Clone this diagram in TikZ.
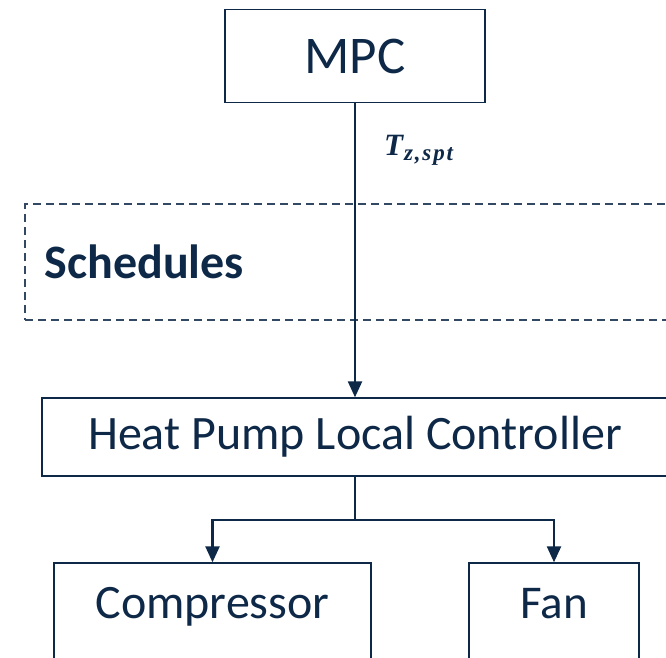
\documentclass[tikz,border=0pt]{standalone}
\usepackage{fontspec}
\usepackage{amssymb,amsmath}
\usetikzlibrary{calc,arrows.meta}
\setmainfont{Carlito}
\newfontfamily\labelfont{Liberation Serif}
\newfontfamily\labelsubfont{Liberation Serif}[LetterSpace=8]
\definecolor{brandNavy}{RGB}{14,40,72}

\begin{document}
\begin{tikzpicture}[x=1pt,y=1pt,
  blockBox/.style={draw=brandNavy,line width=1.4pt,text=brandNavy,inner sep=0pt},
  flowArrow/.style={draw=brandNavy,line width=2.4pt,-{Triangle[length=16pt,width=14pt]}}]
\useasboundingbox (0,0) rectangle (666,-657);
\clip (0,0) rectangle (666,-657);
\node[blockBox,minimum width=260pt,minimum height=93pt,font=\fontsize{53}{60}\selectfont] (mpc) at (355,-56) {MPC};
\node[draw=brandNavy!85,dash pattern=on 8pt off 5pt,line width=1.2pt,minimum width=665pt,minimum height=116pt,inner sep=0pt] (sched) at (357.5,-262) {};
\node[anchor=west,text=brandNavy,inner sep=0pt,font=\fontsize{48}{56}\selectfont\bfseries] (schedLabel) at ([xshift=20pt]sched.west) {Schedules};
\node[blockBox,minimum width=626pt,minimum height=78pt,font=\fontsize{48}{56}\selectfont] (hp) at (355,-437) {Heat Pump Local Controller};
\node[blockBox,minimum width=317pt,minimum height=100pt,text height=30pt,text depth=20pt,font=\fontsize{48}{56}\selectfont] (comp) at (212.5,-613) {Compressor};
\node[blockBox,minimum width=170pt,minimum height=100pt,text height=30pt,text depth=20pt,font=\fontsize{47}{56}\selectfont] (fan) at (554,-613) {Fan};
\coordinate (split) at ($(hp.south)+(0,-43)$);
\draw[flowArrow] (mpc.south) -- (hp.north)
  node[pos=0.16,anchor=west,xshift=28pt,inner sep=0pt,text=brandNavy,font=\bfseries\itshape] (tzLabel)
  {\labelfont\fontsize{31}{32}\selectfont T\kern1pt\raisebox{-5pt}{\labelsubfont\fontsize{23}{24}\selectfont z,spt}};
\draw[flowArrow] (hp.south) -- (split) -| (comp.north);
\draw[flowArrow] (split) -| (fan.north);
\end{tikzpicture}
\end{document}
